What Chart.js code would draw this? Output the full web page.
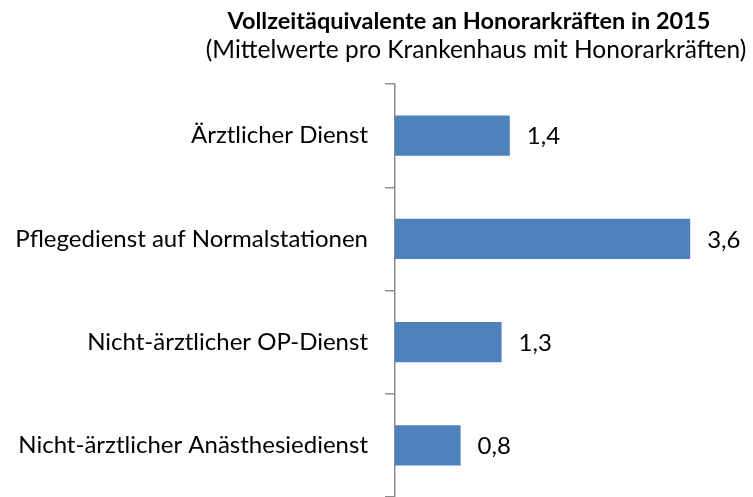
<!DOCTYPE html>
<html>
<head>
<meta charset="utf-8">
<script src="https://cdn.jsdelivr.net/npm/chart.js@4/dist/chart.umd.min.js"></script>
<style>
    body { margin: 0; background: #fff; }
</style>
</head>
<body>
<canvas id="myChart" width="753" height="497"></canvas>
<script>
var categories = [
    "Ärztlicher Dienst",
    "Pflegedienst auf Normalstationen",
    "Nicht-ärztlicher OP-Dienst",
    "Nicht-ärztlicher Anästhesiedienst"
]
var values = [1.4, 3.6, 1.3, 0.8]
var titleText = "Vollzeitäquivalente an Honorarkräften in 2015"
var subtitleText = "(Mittelwerte pro Krankenhaus mit Honorarkräften)"

var fontName = "Lato, 'Liberation Sans', sans-serif"

// title drawn by hand so it can sit right of centre like the original
var titlePlugin = {
    id: 'titles',
    afterDraw: function (chart) {
        var ctx = chart.ctx
        ctx.save()
        ctx.fillStyle = "#000"
        ctx.textAlign = "center"
        ctx.textBaseline = "middle"
        ctx.font = "bold 23.5px " + fontName
        ctx.fillText(titleText, 469, 21)
        ctx.font = "24.5px " + fontName
        ctx.fillText(subtitleText, 476, 50)
        ctx.restore()
    }
}

// value labels to the right of each bar
var valuePlugin = {
    id: 'values',
    afterDatasetsDraw: function (chart) {
        var ctx = chart.ctx
        var meta = chart.getDatasetMeta(0)
        ctx.save()
        ctx.fillStyle = "#000"
        ctx.font = "24px " + fontName
        ctx.textAlign = "left"
        ctx.textBaseline = "middle"
        meta.data.forEach(function (bar, i) {
            var txt = values[i].toFixed(1).replace(".", ",")
            ctx.fillText(txt, bar.x + 17, bar.y + 1)
        })
        ctx.restore()
    }
}

var myCharts = document.getElementById("myChart").getContext("2d")
var chart = new Chart(myCharts, {
    type: 'bar',
    data: {
        labels: categories,
        datasets: [
            {
                data: values,
                backgroundColor: "#4f81bd",
                borderWidth: 0,
                barPercentage: 0.39,
                categoryPercentage: 1
            }
        ]
    },
    options: {
        indexAxis: 'y',
        responsive: false,
        animation: false,
        layout: {
            padding: { top: 84, right: 30, bottom: 0, left: 0 }
        },
        plugins: {
            legend: { display: false },
            title: { display: false },
            tooltip: { enabled: false }
        },
        scales: {
            x: {
                display: false,
                min: 0,
                max: 4
            },
            y: {
                afterFit: function (scale) {
                    scale.width = 395
                    scale.paddingTop = 0
                    scale.paddingBottom = 0
                },
                grid: {
                    drawOnChartArea: false,
                    drawTicks: true,
                    tickLength: 10,
                    color: "#8c8c8c",
                    lineWidth: 1.5
                },
                border: { color: "#8c8c8c", width: 1.5 },
                ticks: {
                    color: "#000",
                    padding: 17,
                    font: { family: fontName, size: 24 }
                }
            }
        }
    },
    plugins: [titlePlugin, valuePlugin]
})
</script>
</body>
</html>
